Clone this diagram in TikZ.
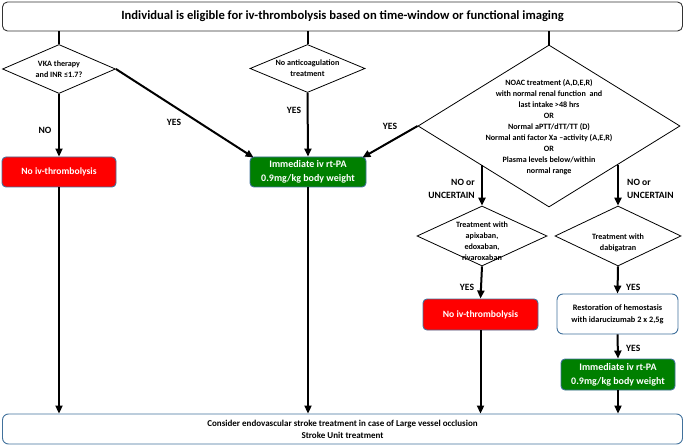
\documentclass[tikz,border=0pt]{standalone}
\usepackage{fontspec}
\setmainfont{Carlito}
\usetikzlibrary{shapes.geometric,arrows.meta,calc}
\definecolor{boxblue}{HTML}{41719C}
\definecolor{okgreen}{HTML}{007F00}
\definecolor{nored}{HTML}{FF0000}
\begin{document}
\begin{tikzpicture}[x=1pt,y=-1pt,
  every node/.style={font=\bfseries},
  dia/.style={shape=diamond,draw=black,line width=0.8pt,inner sep=0pt,fill=white},
  dtext/.style={align=center,font=\bfseries\fontsize{8.1}{11}\selectfont,inner sep=0pt},
  redbox/.style={draw=boxblue,line width=0.9pt,fill=nored,rounded corners=4pt,text=white,align=center,font=\bfseries\fontsize{9.6}{12}\selectfont},
  greenbox/.style={draw=boxblue,line width=0.9pt,fill=okgreen,rounded corners=4pt,text=white,align=center,font=\bfseries\fontsize{10}{14}\selectfont},
  whitebox/.style={draw=boxblue,line width=0.9pt,fill=white,rounded corners=6pt,align=center,font=\bfseries\fontsize{8.3}{12}\selectfont},
  lab/.style={font=\bfseries\fontsize{9.6}{13}\selectfont,inner sep=0pt,align=center},
  arr/.style={line width=2pt,-{Triangle[length=8pt,width=7pt]}},
  stub/.style={line width=2pt}
]
\useasboundingbox (0,0) rectangle (685,446);

% top box
\node[draw=black!80,line width=0.9pt,rounded corners=5pt,minimum width=680pt,minimum height=29pt,inner sep=0pt,font=\bfseries\fontsize{12.6}{14}\selectfont] (top) at (342.5,16.5) {Individual is eligible for iv-thrombolysis based on time-window or functional imaging};

% diamonds
\node[dia,minimum width=113pt,minimum height=49pt] (d1) at (59,69) {};
\node[dtext] (d1t) at (d1.center) {VKA therapy\\and INR ≤1.7?};
\node[dia,minimum width=115pt,minimum height=48pt] (d2) at (307.5,68.5) {};
\node[dtext] (d2t) at (d2.center) {No anticoagulation\\treatment};
\node[dia,minimum width=262pt,minimum height=162pt] (d3) at (549,126) {};
\node[dtext] (d3t) at (549,127) {NOAC treatment (A,D,E,R)\\with normal renal function\ \ and\\last intake >48 hrs\\OR\\Normal aPTT/dTT/TT (D)\\Normal anti factor Xa –activity (A,E,R)\\OR\\Plasma levels below/within\\normal range};
\node[dia,minimum width=130pt,minimum height=60pt] (d4) at (482,236) {};
\node[dtext] (d4t) at (482,241) {Treatment with\\apixaban,\\edoxaban,\\rivaroxaban};
\node[dia,minimum width=126pt,minimum height=60pt] (d5) at (618,236) {};
\node[dtext] (d5t) at (618,242.5) {Treatment with\\dabigatran};

% boxes
\node[redbox,minimum width=114pt,minimum height=30pt] (r1) at (59,172) {No iv-thrombolysis};
\node[greenbox,minimum width=116pt,minimum height=30pt] (g1) at (308,172) {Immediate iv rt-PA\\0.9mg/kg body weight};
\node[redbox,minimum width=115pt,minimum height=31pt] (r2) at (480.5,314.5) {No iv-thrombolysis};
\node[whitebox,minimum width=121pt,minimum height=40pt] (rest) at (617.5,314) {Restoration of hemostasis\\with idarucizumab 2 x 2,5g};
\node[greenbox,minimum width=114pt,minimum height=31pt] (g2) at (618,374.5) {Immediate iv rt-PA\\0.9mg/kg body weight};
\node[draw=boxblue,line width=0.9pt,rounded corners=6pt,minimum width=680pt,minimum height=30pt,align=center,font=\bfseries\fontsize{9}{12}\selectfont] (bot) at (342.5,429) {Consider endovascular stroke treatment in case of Large vessel occlusion\\Stroke Unit treatment};

% stubs from top box
\draw[stub] (d1.north |- top.south) -- (d1.north);
\draw[stub] (d2.north |- top.south) -- (d2.north);
\draw[stub] (d3.north |- top.south) -- (d3.north);

% arrows
\draw[arr] (d1.south) -- (r1.north);
\draw[arr] (d1.east) -- ([xshift=4pt,yshift=-1pt]g1.north west);
\draw[arr] (d2.south) -- (g1.north);
\draw[arr] (d3.west) -- ([xshift=-4pt,yshift=-1pt]g1.north east);
\path (d3.west) -- (d3.south) coordinate[pos=0.48] (d3a);
\path (d3.south) -- (d3.east) coordinate[pos=0.52] (d3b);
\draw[arr] (d4.north |- d3a) -- (d4.north);
\draw[arr] (d5.north |- d3b) -- (d5.north);
\draw[arr] (d4.south) -- (r2.north);
\draw[arr] (d5.south) -- (rest.north);
\draw[arr] (rest.south) -- (g2.north);
\draw[arr] (r1.south) -- (r1.south |- bot.north);
\draw[arr] (g1.south) -- (g1.south |- bot.north);
\draw[arr] (r2.south) -- (r2.south |- bot.north);
\draw[arr] (g2.south) -- (g2.south |- bot.north);

% labels
\node[lab] (lno) at (45,130) {NO};
\node[lab] (ly1) at (174,122) {YES};
\node[lab] (ly2) at (294,110) {YES};
\node[lab] (ly3) at (390,126) {YES};
\node[lab,align=right,anchor=east] (lnu1) at (475,188.5) {NO or\\UNCERTAIN};
\node[lab,align=left,anchor=west] (lnu2) at (627,188.5) {NO or\\UNCERTAIN};
\node[lab] (ly4) at (467,287) {YES};
\node[lab,anchor=west] (ly5) at (626,287) {YES};
\node[lab,anchor=west] (ly6) at (626,348) {YES};
\end{tikzpicture}
\end{document}
